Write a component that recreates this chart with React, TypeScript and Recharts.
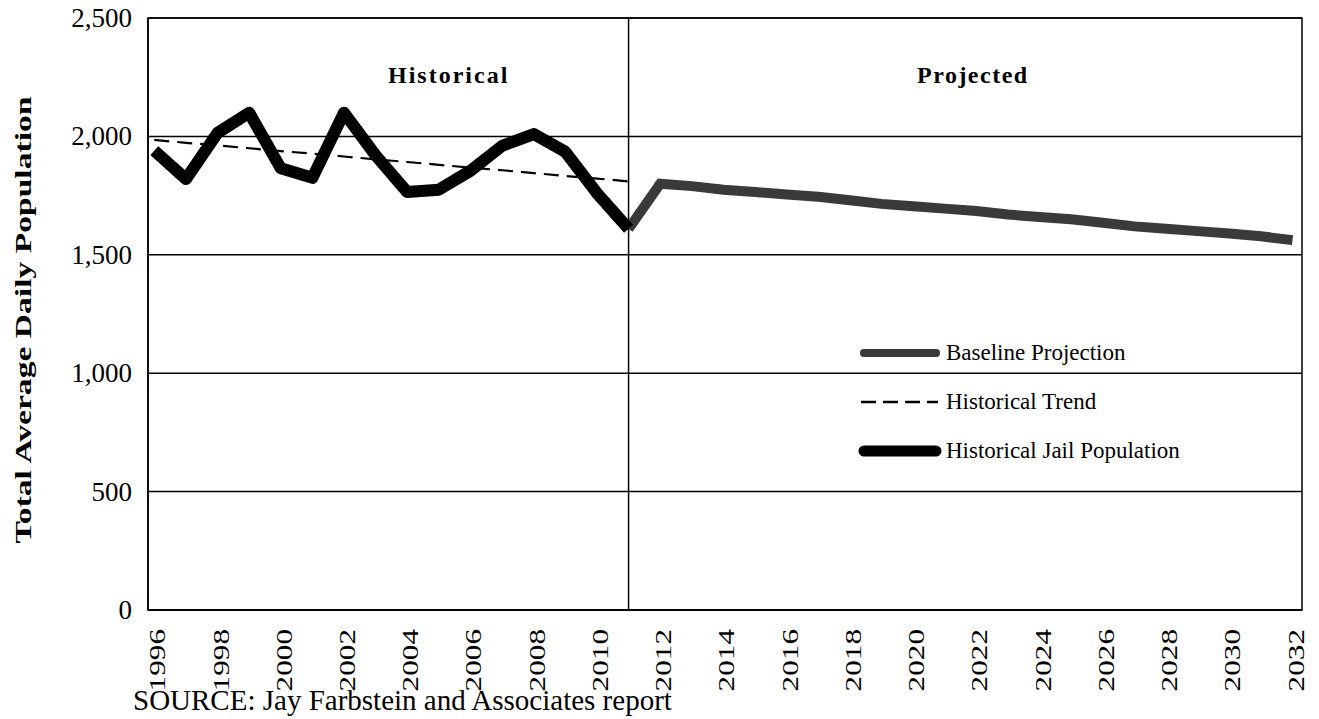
import React from 'react';
import {
  LineChart,
  Line,
  XAxis,
  YAxis,
  CartesianGrid,
  ReferenceLine,
  ReferenceArea,
  Legend,
  Label,
} from 'recharts';

// years on the x axis
const years = [
  1996, 1997, 1998, 1999, 2000, 2001, 2002, 2003, 2004, 2005, 2006, 2007, 2008, 2009, 2010, 2011,
  2012, 2013, 2014, 2015, 2016, 2017, 2018, 2019, 2020, 2021, 2022, 2023, 2024, 2025, 2026, 2027,
  2028, 2029, 2030, 2031, 2032,
];

// 1996 - 2011
const historicalJail = [
  1940, 1820, 2015, 2100, 1865, 1825, 2100, 1920, 1765, 1775, 1855, 1960, 2010, 1935, 1760, 1610,
];
// dashed trend, 1996 - 2011
const historicalTrend = [
  1985, 1973, 1962, 1950, 1938, 1927, 1915, 1903, 1892, 1880, 1868, 1857, 1845, 1833, 1822, 1810,
];
// 2011 - 2032
const baselineProjection = [
  1610, 1800, 1790, 1775, 1765, 1755, 1745, 1730, 1715, 1705, 1695, 1685, 1670, 1660, 1650, 1635,
  1620, 1610, 1600, 1590, 1578, 1562,
];

const yTicks = [0, 500, 1000, 1500, 2000, 2500];
const xTicks = [1996, 1998, 2000, 2002, 2004, 2006, 2008, 2010, 2012, 2014, 2016, 2018, 2020, 2022, 2024, 2026, 2028, 2030, 2032];

const legendItems = [
  { label: 'Baseline Projection', kind: 'baseline' },
  { label: 'Historical Trend', kind: 'trend' },
  { label: 'Historical Jail Population', kind: 'jail' },
];

const FONT = '"Liberation Serif", "Times New Roman", serif';
const PROJ_COLOR = '#3a3a3a';

const data = years.map((year, i) => ({
  year,
  jail: i < historicalJail.length ? historicalJail[i] : null,
  trend: i < historicalTrend.length ? historicalTrend[i] : null,
  baseline: i >= 15 ? baselineProjection[i - 15] : null,
}));

const YearTick = (props: any) => {
  const { x, y, payload } = props;
  return (
    <text
      transform={`translate(${x + 11},${y + 11}) rotate(-90) scale(1.3,1)`}
      textAnchor="end"
      fontFamily={FONT}
      fontSize={24}
      fill="#000"
    >
      {payload.value}
    </text>
  );
};

const ValueTick = (props: any) => {
  const { x, y, payload } = props;
  return (
    <text
      x={x}
      y={y + 9}
      textAnchor="end"
      fontFamily={FONT}
      fontSize={27}
      fill="#000"
    >
      {Number(payload.value).toLocaleString('en-US')}
    </text>
  );
};

const LegendBox = () => (
  <div style={{ fontFamily: FONT, fontSize: 23, color: '#000' }}>
    {legendItems.map((item) => (
      <div key={item.label} style={{ display: 'flex', alignItems: 'center', height: 49 }}>
        <svg width={86} height={14} style={{ marginRight: 2 }}>
          {item.kind === 'trend' ? (
            <line x1={3} y1={7} x2={80} y2={7} stroke="#000" strokeWidth={2.5} strokeDasharray="15 7" />
          ) : (
            <line
              x1={6}
              y1={7}
              x2={78}
              y2={7}
              stroke={item.kind === 'jail' ? '#000' : PROJ_COLOR}
              strokeWidth={item.kind === 'jail' ? 11 : 8}
              strokeLinecap="round"
            />
          )}
        </svg>
        <span>{item.label}</span>
      </div>
    ))}
  </div>
);

const App: React.FC = () => {
  return (
    <div style={{ position: 'absolute', left: 0, top: 0, width: 1319, height: 719, background: '#fff' }}>
      <LineChart width={1319} height={719} data={data} margin={{ top: 18, right: 17, left: 0, bottom: 0 }}>
        <CartesianGrid vertical={false} stroke="#000" strokeWidth={1.5} />
        <XAxis
          dataKey="year"
          type="number"
          domain={[1995.8, 2032.3]}
          ticks={xTicks}
          tick={<YearTick />}
          tickLine={false}
          axisLine={{ stroke: '#000', strokeWidth: 1.5 }}
          height={109}
          interval={0}
        />
        <YAxis
          domain={[0, 2500]}
          ticks={yTicks}
          tick={<ValueTick />}
          tickLine={false}
          tickMargin={10}
          axisLine={{ stroke: '#000', strokeWidth: 1.5 }}
          width={148}
        >
          <Label
            content={(props: any) => {
              const vb = props.viewBox || { y: 18, height: 592 };
              return (
                <text
                  transform={`translate(31,${vb.y + vb.height / 2 + 6}) rotate(-90) scale(1.4,1)`}
                  textAnchor="middle"
                  fontFamily={FONT}
                  fontSize={24}
                  fontWeight="bold"
                  fill="#000"
                >
                  Total Average Daily Population
                </text>
              );
            }}
          />
        </YAxis>
        <ReferenceArea x1={1995.8} x2={2032.3} y1={0} y2={2500} fill="none" stroke="#000" strokeWidth={1.5} />
        <ReferenceLine x={2011} stroke="#000" strokeWidth={1.5} />
        <Legend
          layout="horizontal"
          verticalAlign="middle"
          align="center"
          content={<LegendBox />}
          wrapperStyle={{ position: 'absolute', left: 858, top: 328, width: 420 }}
        />
        <Line
          dataKey="trend"
          stroke="#000"
          strokeWidth={2.2}
          strokeDasharray="15 8"
          dot={false}
          isAnimationActive={false}
          connectNulls={false}
        />
        <Line
          dataKey="baseline"
          stroke={PROJ_COLOR}
          strokeWidth={10}
          dot={false}
          isAnimationActive={false}
          connectNulls={false}
        />
        <Line
          dataKey="jail"
          stroke="#000"
          strokeWidth={12}
          strokeLinejoin="round"
          dot={false}
          isAnimationActive={false}
          connectNulls={false}
        />
      </LineChart>
      <div
        style={{
          position: 'absolute',
          left: 388,
          top: 62,
          fontFamily: FONT,
          fontSize: 24,
          fontWeight: 'bold',
          letterSpacing: 2,
        }}
      >
        Historical
      </div>
      <div
        style={{
          position: 'absolute',
          left: 917,
          top: 62,
          fontFamily: FONT,
          fontSize: 24,
          fontWeight: 'bold',
          letterSpacing: 1.5,
        }}
      >
        Projected
      </div>
      <div
        style={{
          position: 'absolute',
          left: 133,
          top: 684,
          fontFamily: FONT,
          fontSize: 29,
          lineHeight: '32px',
        }}
      >
        SOURCE: Jay Farbstein and Associates report
      </div>
    </div>
  );
};

export default App;
